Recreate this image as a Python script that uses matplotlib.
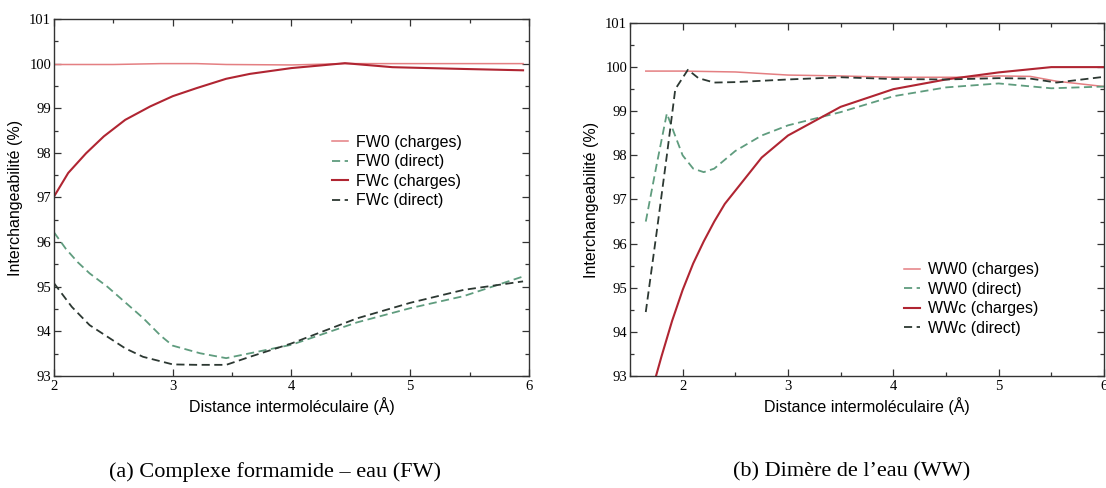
import numpy as np
import matplotlib
matplotlib.use('Agg')
import matplotlib.pyplot as plt
from matplotlib.ticker import MultipleLocator

plt.rcParams['font.family'] = ['Liberation Serif', 'DejaVu Serif']

# (a) formamide - eau
fw0_ch_x = [2.0, 2.5, 2.9, 3.2, 3.45, 4.0, 4.45, 5.0, 5.5, 5.95]
fw0_ch_y = [99.98, 99.98, 100.0, 100.0, 99.98, 99.97, 100.0, 100.0, 100.0, 100.0]

fw0_di_x = [2.0, 2.1, 2.2, 2.3, 2.45, 2.6, 2.75, 2.9, 3.0, 3.23, 3.45, 4.0, 4.55, 5.0, 5.45, 5.95]
fw0_di_y = [96.22, 95.85, 95.55, 95.3, 95.0, 94.65, 94.3, 93.9, 93.68, 93.51, 93.40, 93.70, 94.20, 94.52, 94.79, 95.23]

fwc_ch_x = [2.0, 2.12, 2.27, 2.42, 2.6, 2.81, 3.0, 3.2, 3.45, 3.65, 4.0, 4.25, 4.45, 4.85, 5.45, 5.95]
fwc_ch_y = [97.02, 97.55, 97.99, 98.37, 98.74, 99.04, 99.27, 99.45, 99.66, 99.77, 99.90, 99.96, 100.01, 99.92, 99.88, 99.85]

fwc_di_x = [2.0, 2.15, 2.3, 2.45, 2.6, 2.75, 3.0, 3.2, 3.45, 3.65, 4.0, 4.55, 5.0, 5.45, 5.95]
fwc_di_y = [95.08, 94.55, 94.14, 93.88, 93.62, 93.43, 93.26, 93.25, 93.25, 93.43, 93.73, 94.29, 94.64, 94.93, 95.12]

# (b) dimere de l'eau
ww0_ch_x = [1.65, 2.0, 2.5, 3.0, 3.5, 4.0, 4.65, 5.0, 5.3, 5.55, 6.0]
ww0_ch_y = [99.91, 99.91, 99.89, 99.82, 99.80, 99.77, 99.77, 99.80, 99.79, 99.68, 99.56]

ww0_di_x = [1.65, 1.75, 1.85, 1.92, 2.0, 2.1, 2.2, 2.3, 2.5, 2.75, 3.0, 3.5, 4.0, 4.5, 5.0, 5.5, 6.0]
ww0_di_y = [96.5, 97.75, 98.95, 98.5, 98.0, 97.7, 97.62, 97.7, 98.1, 98.45, 98.68, 98.98, 99.34, 99.54, 99.63, 99.52, 99.56]

wwc_ch_x = [1.7, 1.8, 1.9, 2.0, 2.1, 2.2, 2.3, 2.4, 2.5, 2.75, 3.0, 3.5, 4.0, 4.5, 5.0, 5.5, 6.0]
wwc_ch_y = [92.6, 93.45, 94.25, 94.95, 95.55, 96.05, 96.5, 96.9, 97.2, 97.95, 98.45, 99.1, 99.5, 99.72, 99.88, 100.0, 100.0]

wwc_di_x = [1.65, 1.75, 1.85, 1.93, 2.05, 2.15, 2.3, 2.5, 3.0, 3.5, 4.0, 4.5, 5.0, 5.3, 5.55, 6.0]
wwc_di_y = [94.45, 96.2, 98.0, 99.5, 99.94, 99.75, 99.65, 99.66, 99.72, 99.77, 99.73, 99.72, 99.75, 99.74, 99.65, 99.78]

labels_fw = ['FW0 (charges)', 'FW0 (direct)', 'FWc (charges)', 'FWc (direct)']
labels_ww = ['WW0 (charges)', 'WW0 (direct)', 'WWc (charges)', 'WWc (direct)']

c_light = '#e47f82'
c_dark = '#b02532'
c_green = '#5f9c7e'
c_black = '#2c3832'

fig = plt.figure(figsize=(11.06, 4.88), dpi=100)
ax1 = fig.add_axes([0.0488, 0.2295, 0.4295, 0.7316])
ax2 = fig.add_axes([0.5696, 0.2295, 0.4286, 0.7234])


def draw(ax, series, labels, xlim, leg_xy):
    (x0, y0), (x1, y1), (x2, y2), (x3, y3) = series
    ax.plot(x0, y0, color=c_light, lw=1.1, label=labels[0])
    ax.plot(x1, y1, color=c_green, lw=1.3, dashes=(4.5, 2.5), label=labels[1])
    ax.plot(x2, y2, color=c_dark, lw=1.5, label=labels[2])
    ax.plot(x3, y3, color=c_black, lw=1.3, dashes=(4.5, 2.5), label=labels[3])
    ax.set_xlim(*xlim)
    ax.set_ylim(93, 101)
    ax.xaxis.set_major_locator(MultipleLocator(1))
    ax.xaxis.set_minor_locator(MultipleLocator(0.5))
    ax.yaxis.set_major_locator(MultipleLocator(1))
    ax.yaxis.set_minor_locator(MultipleLocator(0.5))
    ax.tick_params(which='both', direction='in', top=True, right=True,
                   color='#333333', width=0.9, labelsize=10.5)
    ax.tick_params(which='major', length=5, pad=3)
    ax.tick_params(axis='y', which='major', pad=2)
    ax.tick_params(which='minor', length=3)
    for s in ax.spines.values():
        s.set_color('#333333')
        s.set_linewidth(1.0)
    ax.set_xlabel('Distance intermoléculaire (Å)', fontfamily='Liberation Sans',
                  fontsize=11.5, va='top')
    ax.set_ylabel('Interchangeabilité (%)', fontfamily='Liberation Sans', fontsize=11.5)
    ax.xaxis.set_label_coords(0.5, -0.06)
    ax.yaxis.set_label_coords(-0.066, 0.5)
    ax.legend(loc='upper left', bbox_to_anchor=leg_xy, frameon=False,
              borderpad=0, borderaxespad=0, handlelength=1.0, handletextpad=0.5,
              labelspacing=0.28, prop={'family': 'Liberation Sans', 'size': 11.5})


draw(ax1, [(fw0_ch_x, fw0_ch_y), (fw0_di_x, fw0_di_y), (fwc_ch_x, fwc_ch_y), (fwc_di_x, fwc_di_y)],
     labels_fw, (2, 6), (0.585, 0.675))
draw(ax2, [(ww0_ch_x, ww0_ch_y), (ww0_di_x, ww0_di_y), (wwc_ch_x, wwc_ch_y), (wwc_di_x, wwc_di_y)],
     labels_ww, (1.5, 6), (0.578, 0.322))

fig.text(0.249, 0.033, '(a) Complexe formamide – eau (FW)', ha='center', va='center', fontsize=16)
fig.text(0.77, 0.033, '(b) Dimère de l’eau (WW)', ha='center', va='center', fontsize=16)

fig.savefig('out.png', dpi=100)
